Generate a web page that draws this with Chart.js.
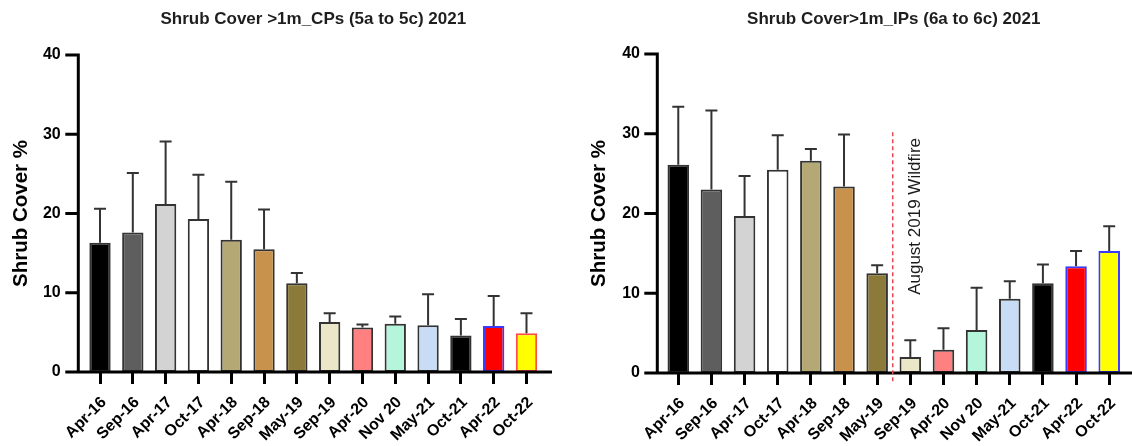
<!DOCTYPE html>
<html>
<head>
<meta charset="utf-8">
<script src="https://cdn.jsdelivr.net/npm/chart.js@4.4.1/dist/chart.umd.min.js"></script>
<style>
  body { margin: 0; background: #fff; width: 1132px; height: 446px; overflow: hidden; position: relative; }
  canvas { position: absolute; top: 0; }
</style>
</head>
<body>
<canvas id="cpChart" width="566" height="446" style="left:0"></canvas>
<canvas id="ipChart" width="566" height="446" style="left:566px"></canvas>
<script>
const surveys = ['Apr-16', 'Sep-16', 'Apr-17', 'Oct-17', 'Apr-18', 'Sep-18', 'May-19',
                 'Sep-19', 'Apr-20', 'Nov 20', 'May-21', 'Oct-21', 'Apr-22', 'Oct-22'];

// CPs (5a to 5c): mean cover % and error bar (upper arm)
const cpMeans  = [16.3, 17.6, 21.2, 19.3, 16.7, 15.5, 11.2, 6.3, 5.6, 6.1, 5.9, 4.6, 5.8, 4.9];
const cpErrors = [4.3, 7.5, 7.9, 5.6, 7.3, 5.0, 1.3, 1.1, 0.4, 0.9, 3.9, 2.1, 3.8, 2.5];

// IPs (6a to 6c)
const ipMeans  = [26.1, 23.0, 19.7, 25.5, 26.6, 23.4, 12.5, 2.0, 2.9, 5.4, 9.3, 11.25, 13.4, 15.3];
const ipErrors = [7.3, 9.9, 5.0, 4.3, 1.5, 6.5, 1.0, 2.1, 2.7, 5.3, 2.2, 2.35, 1.9, 3.1];

const yTicks = [0, 10, 20, 30, 40];
const wildfireLabel = 'August 2019 Wildfire';
const wildfireBetween = ['May-19', 'Sep-19'];

const barFills = ['#000000', '#5e5e5e', '#d3d3d3', '#ffffff', '#b4a874', '#c8924d', '#8b7a39',
                  '#ece6c8', '#ff8080', '#b5f5dc', '#c8ddf5', '#000000', '#ff0000', '#ffff00'];
const cpBorders = surveys.map((s, i) => i === 12 ? '#3a3aff' : i === 13 ? '#ff4a4a' : '#333333');
const ipBorders = surveys.map((s, i) => i >= 12 ? '#3a3aff' : '#333333');

const FONT = '"Liberation Sans", Arial, Helvetica, sans-serif';

// error bars, upward only
const errorBars = {
  id: 'errorBars',
  afterDatasetsDraw(chart, args, opts) {
    const ctx = chart.ctx;
    const y = chart.scales.y;
    const vals = chart.data.datasets[0].data;
    ctx.save();
    ctx.strokeStyle = '#333';
    ctx.lineWidth = 2;
    chart.getDatasetMeta(0).data.forEach((bar, i) => {
      const top = y.getPixelForValue(vals[i] + opts.errors[i]);
      ctx.beginPath();
      ctx.moveTo(bar.x, bar.y);
      ctx.lineTo(bar.x, top);
      ctx.moveTo(bar.x - 6, top);
      ctx.lineTo(bar.x + 6, top);
      ctx.stroke();
    });
    ctx.restore();
  }
};

// prism style axes: y axis set a little apart from the first bar
const prismAxes = {
  id: 'prismAxes',
  afterDraw(chart, args, opts) {
    const ctx = chart.ctx;
    const a = chart.chartArea;
    const y = chart.scales.y;
    const ax = a.left - opts.gap;
    ctx.save();
    ctx.strokeStyle = '#000';
    ctx.lineWidth = 3;
    ctx.beginPath();
    ctx.moveTo(ax, y.getPixelForValue(yTicks[yTicks.length - 1]) - 1.5);
    ctx.lineTo(ax, a.bottom);
    ctx.moveTo(ax - 1.5, a.bottom);
    ctx.lineTo(opts.end, a.bottom);
    yTicks.forEach(v => {
      const py = y.getPixelForValue(v);
      ctx.moveTo(ax - 13, py);
      ctx.lineTo(ax, py);
    });
    ctx.stroke();
    ctx.restore();
  }
};

const wildfire = {
  id: 'wildfire',
  afterDraw(chart, args, opts) {
    if (!opts.show) return;
    const ctx = chart.ctx;
    const x = chart.scales.x, y = chart.scales.y;
    const i0 = surveys.indexOf(wildfireBetween[0]);
    const i1 = surveys.indexOf(wildfireBetween[1]);
    const px = (x.getPixelForValue(i0) + x.getPixelForValue(i1)) / 2 - 1;
    ctx.save();
    ctx.strokeStyle = '#e8474f';
    ctx.lineWidth = 1.5;
    ctx.setLineDash([4, 3]);
    ctx.beginPath();
    ctx.moveTo(px, y.getPixelForValue(30.2));
    ctx.lineTo(px, chart.chartArea.bottom + 11);
    ctx.stroke();
    ctx.setLineDash([]);
    ctx.translate(px + 27, y.getPixelForValue(9.8));
    ctx.rotate(-Math.PI / 2);
    ctx.fillStyle = '#1a1a1a';
    ctx.font = '17px ' + FONT;
    ctx.textAlign = 'left';
    ctx.textBaseline = 'alphabetic';
    ctx.fillText(wildfireLabel, 0, 0);
    ctx.restore();
  }
};

function makeChart(id, title, means, errors, borders, lay) {
  return new Chart(document.getElementById(id), {
    type: 'bar',
    data: {
      labels: surveys,
      datasets: [{
        data: means,
        backgroundColor: barFills,
        borderColor: borders,
        borderWidth: 2,
        borderSkipped: false,
        barPercentage: 0.65,
        categoryPercentage: 1.0
      }]
    },
    options: {
      responsive: false,
      animation: false,
      layout: { padding: { left: 0, right: lay.padRight, top: 0, bottom: 0 } },
      plugins: {
        legend: { display: false },
        tooltip: { enabled: false },
        title: {
          display: true,
          text: title,
          fullSize: false,
          color: '#1e1e1e',
          font: { family: FONT, size: 17, weight: 'bold' },
          padding: { top: 9, bottom: lay.top - 29.4 }
        },
        errorBars: { errors: errors },
        prismAxes: { gap: lay.gap, end: lay.axisEnd },
        wildfire: { show: lay.wildfire }
      },
      scales: {
        x: {
          offset: true,
          border: { display: false },
          grid: { display: true, drawOnChartArea: false, offset: false, drawTicks: true,
                  tickLength: 12, lineWidth: 3, color: '#000' },
          ticks: { color: '#000', minRotation: 45, maxRotation: 45, padding: 9, labelOffset: 4,
                   font: { family: FONT, size: 16, weight: 'bold' } },
          afterFit(scale) { scale.height = lay.xHeight; }
        },
        y: {
          min: 0,
          max: 40,
          border: { display: false },
          grid: { display: false, drawTicks: false },
          ticks: { stepSize: 10, color: '#000', padding: lay.tickPad,
                   font: { family: FONT, size: 16, weight: 'bold' } },
          title: {
            display: true,
            text: 'Shrub Cover %',
            color: '#000',
            font: { family: FONT, size: 20.5, weight: 'bold' },
            padding: { top: lay.titlePad, bottom: 0 }
          },
          afterFit(scale) { scale.width = lay.yWidth; }
        }
      }
    },
    plugins: [errorBars, prismAxes, wildfire]
  });
}

makeChart('cpChart', 'Shrub Cover >1m_CPs (5a to 5c) 2021', cpMeans, cpErrors, cpBorders,
  { yWidth: 83.6, padRight: 23.1, gap: 5.3, axisEnd: 552, top: 55, xHeight: 74,
    tickPad: 22.9, titlePad: 8.7, wildfire: false });

makeChart('ipChart', 'Shrub Cover>1m_IPs (6a to 6c) 2021', ipMeans, ipErrors, ipBorders,
  { yWidth: 95.7, padRight: 5.7, gap: 4.4, axisEnd: 566, top: 54, xHeight: 73,
    tickPad: 21.7, titlePad: 20.7, wildfire: true });
</script>
</body>
</html>
